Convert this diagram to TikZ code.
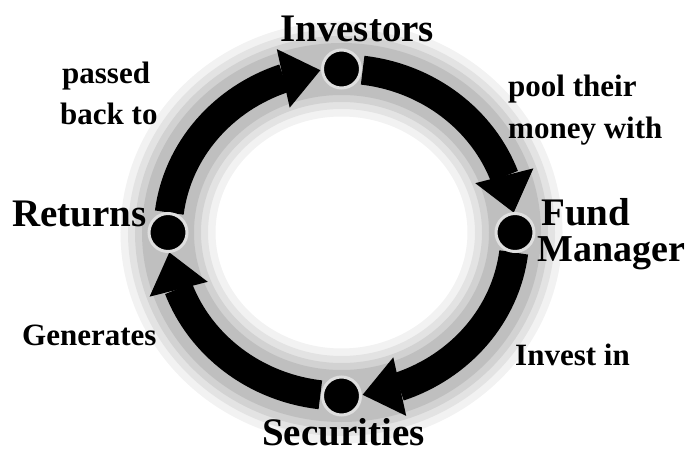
\documentclass[tikz,border=0pt]{standalone}
\usepackage{fontspec}
\setmainfont{Liberation Serif}
\usetikzlibrary{arrows.meta,bending}
\tikzset{
  biglabel/.style={font=\bfseries\fontsize{39}{39}\selectfont, inner sep=0pt, anchor=base west},
  smalllabel/.style={font=\bfseries\fontsize{31}{31}\selectfont, inner sep=0pt, anchor=base west},
  dotnode/.style={circle, fill=black, draw=gray!25, line width=3pt, minimum size=38pt, inner sep=0pt},
  band/.style={line width=29pt, black, -{Triangle[length=38pt,width=60pt,line width=0pt]}},
  halo/.style={gray, line width=#1}
}
\begin{document}
\begin{tikzpicture}[x=1pt,y=1pt]
\useasboundingbox (0,0) rectangle (690,453);
\fill[white] (0,0) rectangle (690,453);
\coordinate (ctr) at (341.5,220.5);
% halo
\foreach \w/\o in {95/0.10,80/0.13,66/0.17,52/0.22} {
  \draw[halo=\w pt, opacity=\o] (ctr) ellipse[x radius=173.5, y radius=163.5];
}
% arcs
\draw[band] ([shift={(173:173.5 and 163.5)}]ctr) arc[start angle=173, end angle=97, x radius=173.5, y radius=163.5];
\draw[band] ([shift={(83:173.5 and 163.5)}]ctr) arc[start angle=83, end angle=7, x radius=173.5, y radius=163.5];
\draw[band] ([shift={(-7:173.5 and 163.5)}]ctr) arc[start angle=-7, end angle=-83, x radius=173.5, y radius=163.5];
\draw[band] ([shift={(263:173.5 and 163.5)}]ctr) arc[start angle=263, end angle=187, x radius=173.5, y radius=163.5];
% dots
\node[dotnode] (dinv) at ([shift={(90:173.5 and 163.5)}]ctr) {};
\node[dotnode] (dfund) at ([shift={(0:173.5 and 163.5)}]ctr) {};
\node[dotnode] (dsec) at ([shift={(270:173.5 and 163.5)}]ctr) {};
\node[dotnode] (dret) at ([shift={(180:173.5 and 163.5)}]ctr) {};
% labels
\node[biglabel] (investors) at (280,411) {Investors};
\node[biglabel] (fund) at (541,228) {Fund};
\node[biglabel, font=\bfseries\fontsize{38}{38}\selectfont] (manager) at (537,192) {Manager};
\node[biglabel] (securities) at (262,8) {Securities};
\node[biglabel] (returns) at (12,226) {Returns};
\node[smalllabel] (passed) at (62,369) {passed};
\node[smalllabel] (backto) at (60,328) {back to};
\node[smalllabel] (pool) at (508,356) {pool their};
\node[smalllabel] (money) at (508,314) {money with};
\node[smalllabel] (generates) at (22,108) {Generates};
\node[smalllabel] (investin) at (515,88) {Invest in};
\end{tikzpicture}
\end{document}
